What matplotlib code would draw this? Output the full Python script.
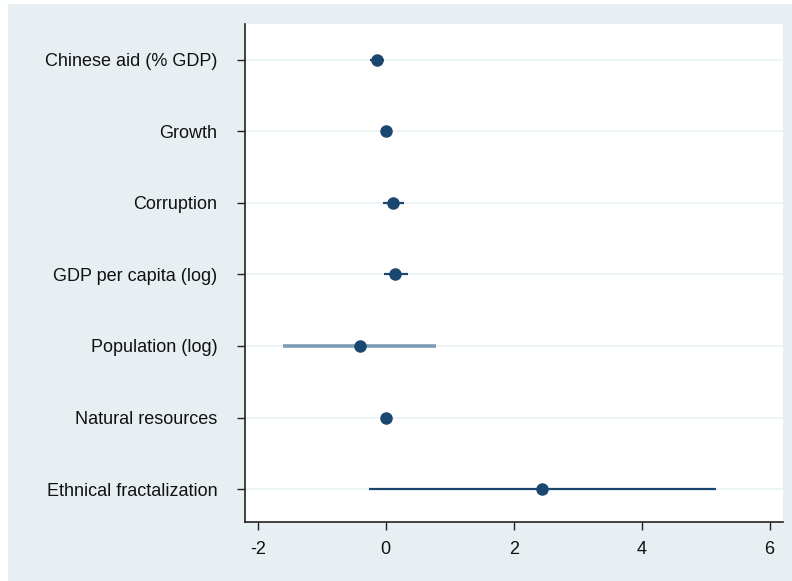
import matplotlib
matplotlib.use('Agg')
import matplotlib.pyplot as plt
from matplotlib.patches import Rectangle

# coefficient plot data
variables = ['Chinese aid (% GDP)', 'Growth', 'Corruption', 'GDP per capita (log)',
             'Population (log)', 'Natural resources', 'Ethnical fractalization']
coef = [-0.13, 0.0, 0.12, 0.15, -0.41, 0.01, 2.44]
ci_low = [-0.25, -0.03, -0.04, -0.03, -1.60, -0.02, -0.26]
ci_high = [-0.02, 0.03, 0.28, 0.35, 0.78, 0.04, 5.17]
xticks = [-2, 0, 2, 4, 6]

NAVY = '#1a476f'
BG = '#e8eff2'

plt.rcParams['font.family'] = ['Liberation Sans', 'DejaVu Sans']

fig = plt.figure(figsize=(7.92, 5.81), dpi=100, facecolor='white')
fig.patches.append(Rectangle((8 / 792, 0), 1, 1 - 4 / 581, transform=fig.transFigure,
                             facecolor=BG, edgecolor='none', zorder=-10))
ax = fig.add_axes([245 / 792, 59 / 581, 538 / 792, 498 / 581])
ax.set_facecolor('white')

y = list(range(len(variables)))
for i in y:
    ax.axhline(i, color='#eaf2f3', lw=1.2, zorder=1)

for i, (lo, hi) in enumerate(zip(ci_low, ci_high)):
    if variables[i].startswith('Population'):
        ax.plot([lo, hi], [i, i], color='#7f9cb6', lw=2.6, solid_capstyle='butt', zorder=2)
    else:
        ax.plot([lo, hi], [i, i], color=NAVY, lw=1.6, solid_capstyle='butt', zorder=2)
ax.plot(coef, y, 'o', color=NAVY, ms=8, zorder=3)

ax.set_xlim(-2.2, 6.21)
ax.set_ylim(len(variables) - 0.54, -0.5)
ax.set_xticks(xticks)
ax.set_xticklabels([str(t) for t in xticks])
ax.set_yticks(y)
ax.set_yticklabels(variables)

for s in ['top', 'right']:
    ax.spines[s].set_visible(False)
for s in ['left', 'bottom']:
    ax.spines[s].set_color('#222222')
    ax.spines[s].set_linewidth(1.2)
ax.tick_params(axis='y', length=6, width=1, pad=14, labelsize=13, colors='#222222')
ax.tick_params(axis='x', length=6, width=1, pad=8, labelsize=13, colors='#222222')
for lab in ax.get_yticklabels() + ax.get_xticklabels():
    lab.set_color('#111111')

fig.savefig('out.png', dpi=100, facecolor=fig.get_facecolor())
